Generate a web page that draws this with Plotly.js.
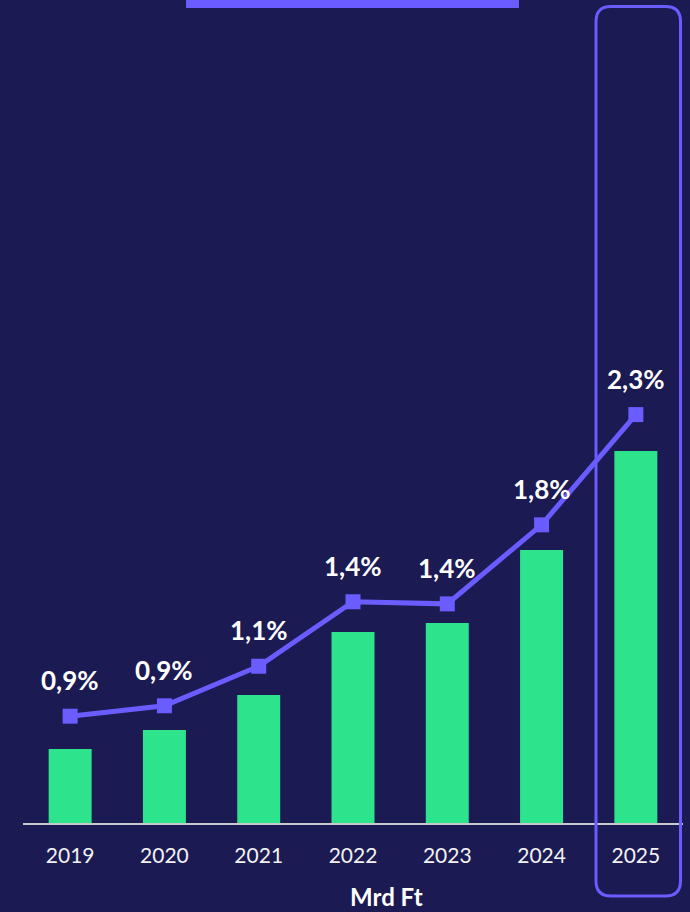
<!DOCTYPE html>
<html>
<head>
<meta charset="utf-8">
<script src="https://cdn.plot.ly/plotly-3.0.1.min.js"></script>
<style>html,body{margin:0;padding:0;background:#1b1a52;}#chart{width:690px;height:912px;}</style>
</head>
<body>
<div id="chart"></div>
<script>
const years = ["2019", "2020", "2021", "2022", "2023", "2024", "2025"];
const amountMrdFt = [37, 46.5, 64, 95.5, 100, 136.5, 186];
const sharePct = [0.85, 0.90, 1.09, 1.40, 1.39, 1.77, 2.30];
const shareLabels = ["0,9%", "0,9%", "1,1%", "1,4%", "1,4%", "1,8%", "2,3%"];
const axisLabel = "Mrd Ft";

const BG = "#1b1a52", GREEN = "#2de38b", PURPLE = "#6a5cff";

const barTrace = {
  type: "bar", x: years.slice(), y: amountMrdFt.slice(),
  marker: {color: GREEN}, hoverinfo: "skip", xaxis: "x", yaxis: "y"
};
const lineTrace = {
  type: "scatter", mode: "lines+markers", x: years.slice(), y: sharePct.slice(),
  xaxis: "x", yaxis: "y2",
  line: {color: PURPLE, width: 5},
  marker: {symbol: "square", size: 15, color: PURPLE},
  cliponaxis: false, hoverinfo: "skip"
};

const annotations = years.map((yr, i) => ({
  x: i, y: sharePct[i], xref: "x", yref: "y2",
  text: "<b>" + shareLabels[i] + "</b>", showarrow: false, yshift: 36,
  font: {family: "Lato, 'Open Sans', sans-serif", size: 26, color: "#ffffff"}
}));
annotations.push({
  x: 0.55, y: 0, xref: "paper", yref: "paper", yanchor: "middle",
  yshift: -73, text: "<b>" + axisLabel + "</b>", showarrow: false,
  font: {family: "Lato, 'Open Sans', sans-serif", size: 24, color: "#ffffff"}
});

// rounded highlight frame (paper coords)
const fx0 = 0.8682, fx1 = 0.9962, fyt = 0.9921, fyb = -0.0887, rx = 0.0227, ry = 0.0182;
const framePath = `M ${fx0+rx},${fyt} L ${fx1-rx},${fyt} Q ${fx1},${fyt} ${fx1},${fyt-ry} ` +
  `L ${fx1},${fyb+ry} Q ${fx1},${fyb} ${fx1-rx},${fyb} L ${fx0+rx},${fyb} ` +
  `Q ${fx0},${fyb} ${fx0},${fyb+ry} L ${fx0},${fyt-ry} Q ${fx0},${fyt} ${fx0+rx},${fyt} Z`;

const layout = {
  width: 690, height: 912,
  margin: {l: 23, r: 7, t: 0, b: 89},
  paper_bgcolor: BG, plot_bgcolor: BG,
  showlegend: false, bargap: 0.544,
  xaxis: {
    type: "category", range: [-0.5, 6.5], autorange: false,
    categoryorder: "array", categoryarray: years,
    showgrid: false, zeroline: false,
    showline: true, linecolor: "#c9c9c9", linewidth: 2,
    ticks: "", ticklabelstandoff: 13,
    tickfont: {family: "Lato, 'Open Sans', sans-serif", size: 21, color: "#f2f2f2"}
  },
  yaxis: {range: [0, 411.5], autorange: false, visible: false},
  yaxis2: {range: [0.3365, 4.293], autorange: false, visible: false, overlaying: "y", side: "right"},
  annotations: annotations,
  shapes: [
    {type: "rect", xref: "paper", yref: "paper", x0: 0.247, x1: 0.7515, y0: 0.9903, y1: 1.0,
     fillcolor: PURPLE, line: {width: 0}, layer: "above"},
    {type: "path", xref: "paper", yref: "paper", path: framePath,
     line: {color: PURPLE, width: 3}, fillcolor: "rgba(0,0,0,0)", layer: "above"}
  ]
};

Plotly.newPlot("chart", [barTrace, lineTrace], layout, {displayModeBar: false, staticPlot: true});
</script>
</body>
</html>
